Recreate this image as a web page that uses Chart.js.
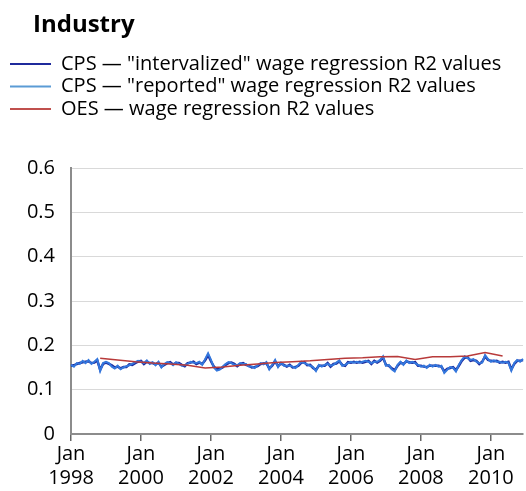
<!DOCTYPE html>
<html>
<head>
<meta charset="utf-8">
<script src="https://cdn.jsdelivr.net/npm/chart.js@4.4.0/dist/chart.umd.min.js"></script>
<style>
    html, body { margin: 0; padding: 0; background: #fff; }
    #wrap { position: relative; width: 526px; height: 491px; }
    #title { position: absolute; left: 33px; top: 11px; font: bold 24px/24px "Open Sans", sans-serif; color: #000; }
</style>
</head>
<body>
<div id="wrap">
    <div id="title">Industry</div>
    <canvas id="myChart" width="526" height="491"></canvas>
</div>
<script>
const years = [1998, 1999, 2000, 2001, 2002, 2003, 2004, 2005, 2006, 2007, 2008, 2009, 2010];
const months = ['Jan', 'Feb', 'Mar', 'Apr', 'May', 'Jun', 'Jul', 'Aug', 'Sep', 'Oct', 'Nov', 'Dec'];

// CPS "intervalized", monthly Jan 1998 - Dec 2010
const cpsIntervalized = [
    0.154, 0.155, 0.158, 0.160, 0.162, 0.163, 0.164, 0.160, 0.161, 0.166, 0.145, 0.158,
    0.161, 0.158, 0.155, 0.150, 0.152, 0.148, 0.151, 0.151, 0.157, 0.156, 0.160, 0.163,
    0.165, 0.158, 0.163, 0.160, 0.160, 0.157, 0.161, 0.152, 0.156, 0.160, 0.162, 0.157,
    0.160, 0.160, 0.156, 0.153, 0.160, 0.161, 0.163, 0.158, 0.161, 0.158, 0.166, 0.178,
    0.164, 0.152, 0.146, 0.147, 0.150, 0.156, 0.160, 0.161, 0.158, 0.153, 0.158, 0.160,
    0.156, 0.154, 0.150, 0.151, 0.153, 0.158, 0.159, 0.160, 0.148, 0.154, 0.164, 0.153,
    0.159, 0.156, 0.152, 0.156, 0.150, 0.151, 0.154, 0.161, 0.162, 0.155, 0.156, 0.149,
    0.145, 0.154, 0.154, 0.154, 0.160, 0.152, 0.158, 0.159, 0.164, 0.156, 0.154, 0.162,
    0.161, 0.163, 0.161, 0.163, 0.161, 0.163, 0.165, 0.158, 0.165, 0.161, 0.165, 0.172,
    0.156, 0.154, 0.148, 0.144, 0.154, 0.161, 0.158, 0.164, 0.162, 0.161, 0.162, 0.154,
    0.154, 0.152, 0.151, 0.154, 0.154, 0.154, 0.154, 0.152, 0.141, 0.147, 0.149, 0.151,
    0.144, 0.154, 0.165, 0.172, 0.173, 0.165, 0.167, 0.165, 0.158, 0.163, 0.175, 0.167,
    0.165, 0.164, 0.165, 0.161, 0.163, 0.161, 0.163, 0.146, 0.158, 0.165, 0.165, 0.167
];

// CPS "reported", monthly Jan 1998 - Dec 2010
const cpsReported = [
    0.156, 0.152, 0.160, 0.158, 0.165, 0.160, 0.167, 0.158, 0.163, 0.169, 0.142, 0.160,
    0.163, 0.160, 0.152, 0.148, 0.154, 0.146, 0.150, 0.153, 0.155, 0.158, 0.162, 0.165,
    0.163, 0.160, 0.166, 0.158, 0.162, 0.155, 0.163, 0.150, 0.158, 0.162, 0.160, 0.155,
    0.162, 0.158, 0.154, 0.155, 0.158, 0.163, 0.161, 0.160, 0.163, 0.156, 0.169, 0.182,
    0.167, 0.150, 0.143, 0.145, 0.152, 0.158, 0.162, 0.160, 0.156, 0.155, 0.160, 0.158,
    0.158, 0.152, 0.152, 0.149, 0.155, 0.160, 0.157, 0.162, 0.146, 0.156, 0.167, 0.151,
    0.161, 0.154, 0.154, 0.154, 0.152, 0.149, 0.156, 0.163, 0.160, 0.157, 0.154, 0.151,
    0.142, 0.156, 0.152, 0.156, 0.158, 0.154, 0.156, 0.161, 0.166, 0.154, 0.156, 0.160,
    0.163, 0.161, 0.163, 0.161, 0.163, 0.165, 0.163, 0.160, 0.163, 0.163, 0.167, 0.175,
    0.154, 0.156, 0.146, 0.141, 0.156, 0.163, 0.156, 0.166, 0.160, 0.163, 0.160, 0.156,
    0.152, 0.154, 0.149, 0.156, 0.152, 0.156, 0.152, 0.154, 0.138, 0.145, 0.151, 0.149,
    0.141, 0.156, 0.167, 0.175, 0.171, 0.167, 0.169, 0.163, 0.160, 0.161, 0.178, 0.169,
    0.163, 0.166, 0.163, 0.163, 0.161, 0.163, 0.161, 0.143, 0.160, 0.167, 0.163, 0.169
];

// OES, semiannual estimates
const oesDates = [
    'Nov 1998', 'May 1999', 'Nov 1999', 'May 2000', 'Nov 2000', 'May 2001',
    'Nov 2001', 'May 2002', 'Nov 2002', 'May 2003', 'Nov 2003', 'May 2004',
    'Nov 2004', 'May 2005', 'Nov 2005', 'May 2006', 'Nov 2006', 'May 2007',
    'Nov 2007', 'May 2008', 'Nov 2008', 'May 2009', 'Nov 2009', 'May 2010'
];
const oesValues = [
    0.171, 0.167, 0.163, 0.160, 0.158, 0.155,
    0.149, 0.151, 0.155, 0.158, 0.161, 0.163,
    0.165, 0.168, 0.171, 0.172, 0.174, 0.175,
    0.168, 0.174, 0.174, 0.176, 0.184, 0.176
];

const labels = [];
years.forEach(function (y) {
    months.forEach(function (m) { labels.push(m + ' ' + y); });
});

const oesSeries = labels.map(function (l) {
    const i = oesDates.indexOf(l);
    return i === -1 ? null : oesValues[i];
});

const padLeft = 7.5;

// push the plot down below the legend
const legendSpacer = {
    id: 'legendSpacer',
    beforeInit(chart) {
        const fit = chart.legend.fit;
        chart.legend.fit = function () {
            fit.bind(chart.legend)();
            this.height += 39;
        };
    }
};

Chart.defaults.font.family = '"Open Sans", sans-serif';
Chart.defaults.color = '#000';

const ctx = document.getElementById('myChart').getContext('2d');

new Chart(ctx, {
    type: 'line',
    data: {
        labels: labels,
        datasets: [
            {
                label: 'CPS \u2014 "intervalized" wage regression R2 values',
                data: cpsIntervalized,
                borderColor: '#1f2a9c',
                backgroundColor: '#1f2a9c',
                borderWidth: 2.5,
                pointRadius: 0,
                order: 3
            },
            {
                label: 'CPS \u2014 "reported" wage regression R2 values',
                data: cpsReported,
                borderColor: '#3377dd',
                backgroundColor: '#5b9bd5',
                borderWidth: 2,
                pointRadius: 0,
                order: 2
            },
            {
                label: 'OES \u2014 wage regression R2 values',
                data: oesSeries,
                borderColor: '#b83a3a',
                backgroundColor: '#c0504d',
                borderWidth: 1.5,
                pointRadius: 0,
                spanGaps: true,
                order: 1
            }
        ]
    },
    options: {
        responsive: false,
        animation: false,
        layout: { padding: { left: padLeft, right: 3, top: 51.5, bottom: 0 } },
        plugins: {
            legend: {
                position: 'top',
                align: 'start',
                labels: {
                    boxWidth: 41,
                    boxHeight: 2,
                    padding: 2.5,
                    font: { size: 20 },
                    color: '#000',
                    generateLabels(chart) {
                        const items = Chart.defaults.plugins.legend.labels.generateLabels(chart);
                        items.sort(function (a, b) { return a.datasetIndex - b.datasetIndex; });
                        items.forEach(function (it) {
                            const ds = chart.data.datasets[it.datasetIndex];
                            it.fillStyle = ds.backgroundColor;
                            it.lineWidth = 0;
                        });
                        return items;
                    }
                }
            },
            tooltip: { enabled: false }
        },
        scales: {
            x: {
                ticks: {
                    autoSkip: false,
                    maxRotation: 0,
                    minRotation: 0,
                    padding: 1,
                    font: { size: 20, lineHeight: 1.2 },
                    callback: function (val) {
                        const parts = this.getLabelForValue(val).split(' ');
                        return (parts[0] === 'Jan' && Number(parts[1]) % 2 === 0) ? ['Jan', parts[1]] : null;
                    }
                },
                grid: {
                    drawOnChartArea: false,
                    drawTicks: true,
                    tickLength: 7,
                    color: '#666',
                    lineWidth: 1.5
                },
                border: { color: '#8c8c8c', width: 2 }
            },
            y: {
                min: 0,
                max: 0.6,
                ticks: {
                    stepSize: 0.1,
                    padding: 16,
                    font: { size: 20 }
                },
                grid: {
                    color: '#d9d9d9',
                    drawTicks: false
                },
                border: { color: '#8c8c8c', width: 2 },
                afterFit: function (scale) {
                    scale.width = 71 - padLeft;
                }
            }
        }
    },
    plugins: [legendSpacer]
});
</script>
</body>
</html>
